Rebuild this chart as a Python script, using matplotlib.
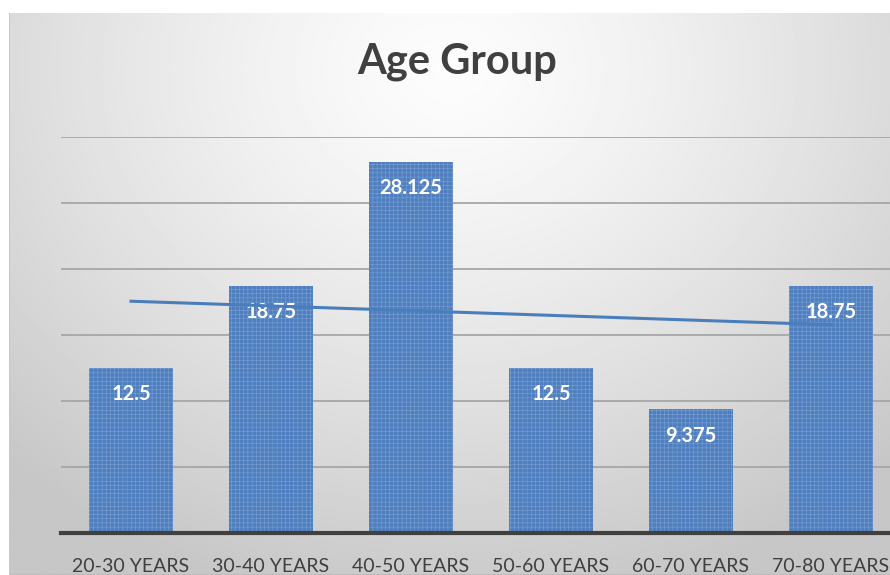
import numpy as np
import matplotlib.pyplot as plt

categories = ["20-30 YEARS", "30-40 YEARS", "40-50 YEARS", "50-60 YEARS", "60-70 YEARS", "70-80 YEARS"]
values = [12.5, 18.75, 28.125, 12.5, 9.375, 18.75]
value_labels = ["12.5", "18.75", "28.125", "12.5", "9.375", "18.75"]
title = "Age Group"

plt.rcParams["font.family"] = ["Lato", "DejaVu Sans"]
plt.rcParams["hatch.linewidth"] = 0.3

W, H = 890, 575
fig = plt.figure(figsize=(W / 100, H / 100), dpi=100)
fig.patch.set_facecolor("white")

# chart area background: soft radial gradient
bg = fig.add_axes([9 / W, 0, 1 - 9 / W, 1 - 13 / H])
yy, xx = np.mgrid[0:1:300j, 0:1:600j]
r = np.sqrt(((xx - 0.5) / 0.75) ** 2 + ((yy - 0.1) / 1.0) ** 2)
shade = np.clip(0.99 - 0.22 * r ** 1.3, 0.78, 0.99)
bg.imshow(shade, cmap="gray", vmin=0, vmax=1, aspect="auto", extent=[0, 1, 1, 0])
bg.axhline(1, color="#bdbdbd", lw=1.5)
bg.axvline(0, color="#c8c8c8", lw=1.5)
bg.set_xlim(0, 1)
bg.set_ylim(1, 0)
bg.axis("off")

left = 61 / W
right = 901 / W
bottom = (H - 533) / H
top = (H - 137) / H
ax = fig.add_axes([left, bottom, right - left, top - bottom])
ax.patch.set_alpha(0)

x = np.arange(len(categories))
ax.set_xlim(-0.5, len(categories) - 0.5)
ax.set_ylim(0, 30)

for g in range(5, 31, 5):
    ax.axhline(g, color="#a6a6a6", lw=1.3, zorder=1)

ax.bar(x, values, width=0.6, color="#4f7fbf", edgecolor="#86a9d9",
       hatch="++++", linewidth=0, zorder=2)

for xi, v, lab in zip(x, values, value_labels):
    ax.annotate(lab, (xi, v), xytext=(0, -19), textcoords="offset points",
                ha="center", va="center", color="white", fontsize=14.5,
                fontweight="bold", zorder=3)

# linear trendline
k, b = np.polyfit(x, values, 1)
ax.plot(x, k * x + b, color="#4a7ebb", lw=2.2, zorder=4)

ax.axhline(0, color="#404040", lw=3, zorder=3, clip_on=False)

for s in ax.spines.values():
    s.set_visible(False)
ax.set_yticks([])
ax.set_xticks(x)
ax.set_xticklabels(categories, fontsize=14, color="#404040")
ax.tick_params(axis="x", length=0, pad=18)

fig.text(457 / W, 1 - 62 / H, title, ha="center", va="center",
         fontsize=30, fontweight="bold", color="#404040")

fig.savefig("out.png", dpi=100)
